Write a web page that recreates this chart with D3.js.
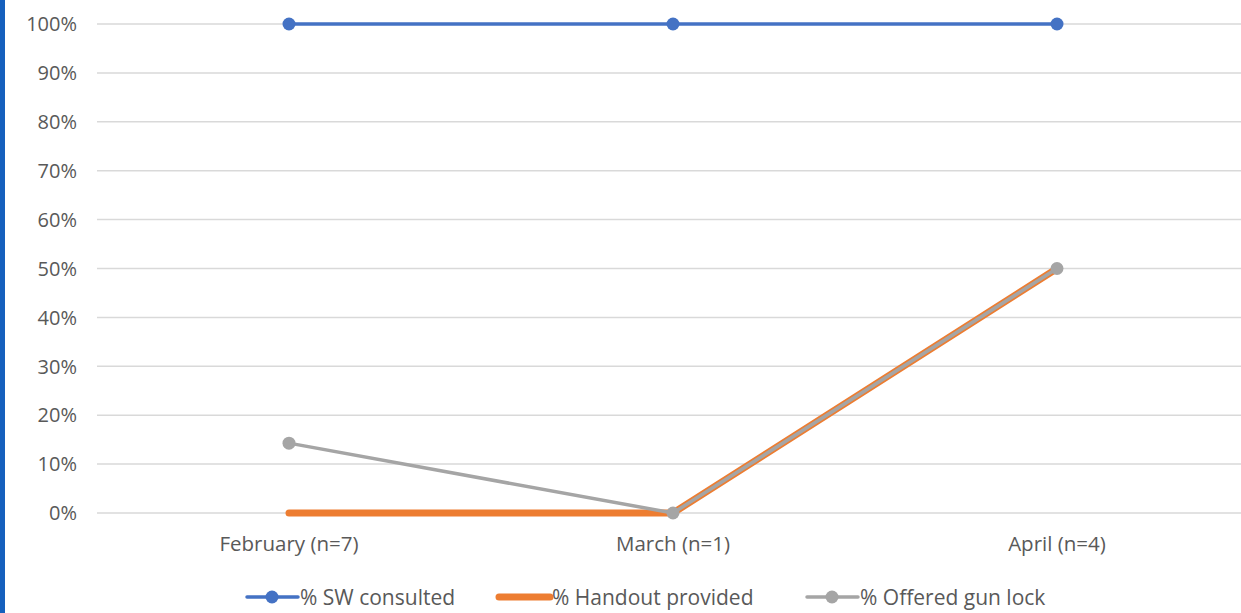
<!DOCTYPE html>
<html>
<head>
<meta charset="utf-8">
<script src="https://cdn.jsdelivr.net/npm/d3@7"></script>
<style>
  body { margin: 0; background: #fff; overflow: hidden; }
  svg { display: block; font-family: "Open Sans", "Noto Sans", sans-serif; }
</style>
</head>
<body>
<svg id="chart" width="1241" height="613"></svg>
<script>
// categories and series (fractions)
const months = ["February (n=7)", "March (n=1)", "April (n=4)"]
const swConsulted = [1, 1, 1]
const handoutProvided = [0, 0, 0.5]
const gunLock = [1 / 7, 0, 0.5]
const yTicks = [0, 0.1, 0.2, 0.3, 0.4, 0.5, 0.6, 0.7, 0.8, 0.9, 1]

const series = [
  { name: "% SW consulted", values: swConsulted, color: "#4472c4", width: 3.5, marker: true },
  { name: "% Handout provided", values: handoutProvided, color: "#ed7d31", width: 7, marker: false },
  { name: "% Offered gun lock", values: gunLock, color: "#a5a5a5", width: 3.5, marker: true }
]

const svg = d3.select('#chart')

// left frame edge
svg.append('rect').attr('x', 0).attr('y', 0).attr('width', 5).attr('height', 613).attr('fill', '#1560bd')

const x = d3.scaleBand().domain(months).range([97, 1249])
const y = d3.scaleLinear().domain([0, 1]).range([513, 24])

// gridlines
svg.append('g').selectAll('line')
  .data(yTicks)
  .enter()
  .append('line')
  .attr('x1', 97).attr('x2', 1241)
  .attr('y1', d => y(d)).attr('y2', d => y(d))
  .attr('stroke', '#d9d9d9').attr('stroke-width', 1.5)

// y labels
svg.append('g').selectAll('text')
  .data(yTicks)
  .enter()
  .append('text')
  .attr('x', 77).attr('y', d => y(d))
  .attr('dy', '0.36em')
  .attr('text-anchor', 'end')
  .attr('font-size', 20)
  .attr('fill', '#595959')
  .text(d => d3.format('.0%')(d))

// x labels
svg.append('g').selectAll('text')
  .data(months)
  .enter()
  .append('text')
  .attr('x', d => x(d) + x.bandwidth() / 2)
  .attr('y', 551)
  .attr('text-anchor', 'middle')
  .attr('font-size', 20.5)
  .attr('fill', '#595959')
  .text(d => d)

const line = d3.line()
  .x((d, i) => x(months[i]) + x.bandwidth() / 2)
  .y(d => y(d))

series.forEach(s => {
  const g = svg.append('g')
  g.append('path')
    .datum(s.values)
    .attr('d', line)
    .attr('fill', 'none')
    .attr('stroke', s.color)
    .attr('stroke-width', s.width)
    .attr('stroke-linecap', 'round')
    .attr('stroke-linejoin', 'round')
  if (s.marker) {
    g.selectAll('circle')
      .data(s.values)
      .enter()
      .append('circle')
      .attr('cx', (d, i) => x(months[i]) + x.bandwidth() / 2)
      .attr('cy', d => y(d))
      .attr('r', 6.5)
      .attr('fill', s.color)
  }
})

// legend
const legendX = [245, 497, 805]
const legend = svg.append('g')
series.forEach((s, i) => {
  const lg = legend.append('g').attr('transform', 'translate(' + legendX[i] + ',597)')
  lg.append('line')
    .attr('x1', 2).attr('x2', 53)
    .attr('stroke', s.color)
    .attr('stroke-width', s.width)
    .attr('stroke-linecap', 'round')
  if (s.marker) {
    lg.append('circle').attr('cx', 27).attr('r', 6.5).attr('fill', s.color)
  }
  lg.append('text')
    .attr('x', 55)
    .attr('dy', '0.36em')
    .attr('font-size', 21)
    .attr('fill', '#595959')
    .text(s.name)
})
</script>
</body>
</html>
